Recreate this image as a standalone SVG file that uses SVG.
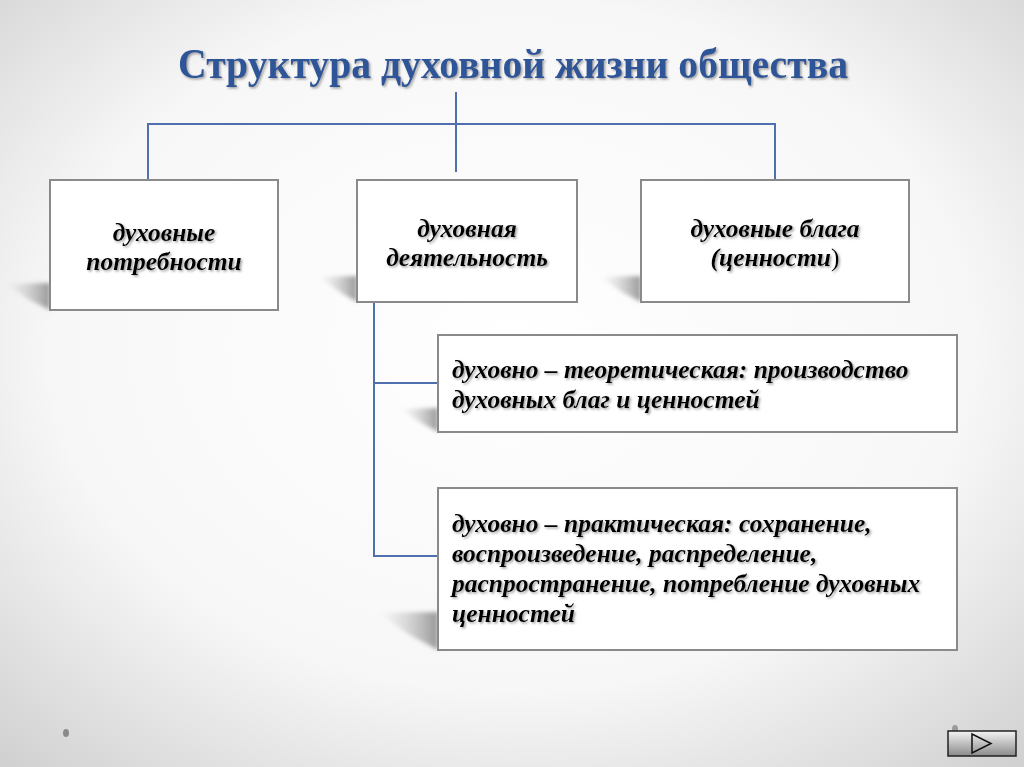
<svg xmlns="http://www.w3.org/2000/svg" width="1024" height="767" viewBox="0 0 1024 767">
<defs>
<radialGradient id="bg" cx="0.5" cy="0.45" r="0.75">
<stop offset="0" stop-color="#ffffff"/>
<stop offset="0.6" stop-color="#f7f7f7"/>
<stop offset="1" stop-color="#cfcfcf"/>
</radialGradient>
<linearGradient id="sh" x1="1" y1="0" x2="0" y2="0">
<stop offset="0" stop-color="#8c8c8c" stop-opacity="0.9"/>
<stop offset="1" stop-color="#c8c8c8" stop-opacity="0"/>
</linearGradient>
<linearGradient id="btn" x1="0" y1="0" x2="0" y2="1">
<stop offset="0" stop-color="#f4f4f4"/>
<stop offset="1" stop-color="#8a8a8a"/>
</linearGradient>
<filter id="ts" x="-5%" y="-20%" width="110%" height="150%">
<feDropShadow dx="1.5" dy="1.5" stdDeviation="1" flood-color="#777" flood-opacity="0.7"/>
</filter>
<filter id="blur" x="-20%" y="-50%" width="140%" height="200%">
<feGaussianBlur stdDeviation="2"/>
</filter>
</defs>
<style>
.box{fill:#ffffff;stroke:#8a8a8a;stroke-width:2}
.lbl{font-family:"Liberation Serif","DejaVu Serif",serif;font-style:italic;font-weight:bold;font-size:25.5px;fill:#000}
.con{fill:none;stroke:#4f6fae;stroke-width:2}
.title{font-family:"Liberation Serif","DejaVu Serif",serif;font-weight:bold;font-size:43px;fill:#2f5597}
</style>
<rect x="0" y="0" width="1024" height="767" fill="url(#bg)"/>
<text class="title" x="178" y="78" textLength="670" lengthAdjust="spacingAndGlyphs" filter="url(#ts)">Структура духовной жизни общества</text>
<g id="connectors">
<path class="con" d="M456,92 V172"/>
<path class="con" d="M148,180 V124 H775 V180"/>
<path class="con" d="M374,302 V556 H438"/>
<path class="con" d="M374,383 H438"/>
</g>
<g id="shadows" filter="url(#blur)">
<polygon points="50,283 5,284 30,300 50,310" fill="url(#sh)"/>
<polygon points="357,276 318,277 340,292 357,302" fill="url(#sh)"/>
<polygon points="641,276 600,277 622,292 641,302" fill="url(#sh)"/>
<polygon points="438,408 400,409 420,422 438,432" fill="url(#sh)"/>
<polygon points="438,612 378,613 410,635 438,650" fill="url(#sh)"/>
</g>
<g id="node1">
<rect class="box" x="50" y="180" width="228" height="130"/>
<text class="lbl" x="164" y="241" text-anchor="middle" filter="url(#ts)">духовные</text>
<text class="lbl" x="164" y="270" text-anchor="middle" filter="url(#ts)">потребности</text>
</g>
<g id="node2">
<rect class="box" x="357" y="180" width="220" height="122"/>
<text class="lbl" x="467" y="237" text-anchor="middle" filter="url(#ts)">духовная</text>
<text class="lbl" x="467" y="266" text-anchor="middle" filter="url(#ts)">деятельность</text>
</g>
<g id="node3">
<rect class="box" x="641" y="180" width="268" height="122"/>
<text class="lbl" x="775" y="237" text-anchor="middle" filter="url(#ts)">духовные блага</text>
<text class="lbl" x="775" y="266" text-anchor="middle" filter="url(#ts)">(ценности<tspan font-weight="normal" font-style="normal">)</tspan></text>
</g>
<g id="node4">
<rect class="box" x="438" y="335" width="519" height="97"/>
<text class="lbl" x="452" y="378" filter="url(#ts)">духовно – теоретическая: производство</text>
<text class="lbl" x="452" y="408" filter="url(#ts)">духовных благ и ценностей</text>
</g>
<g id="node5">
<rect class="box" x="438" y="488" width="519" height="162"/>
<text class="lbl" x="452" y="532" filter="url(#ts)">духовно – практическая: сохранение,</text>
<text class="lbl" x="452" y="562" filter="url(#ts)">воспроизведение, распределение,</text>
<text class="lbl" x="452" y="592" filter="url(#ts)">распространение, потребление духовных</text>
<text class="lbl" x="452" y="622" filter="url(#ts)">ценностей</text>
</g>
<g id="footer">
<ellipse cx="66" cy="733" rx="3" ry="4" fill="#8a8a8a"/>
<ellipse cx="955" cy="729" rx="3" ry="4" fill="#9a9a9a"/>
<rect x="948" y="731" width="68" height="25" fill="url(#btn)" stroke="#222" stroke-width="1.5"/>
<polygon points="972,734 972,753 991,743.5" fill="none" stroke="#111" stroke-width="1.5"/>
</g>
</svg>
